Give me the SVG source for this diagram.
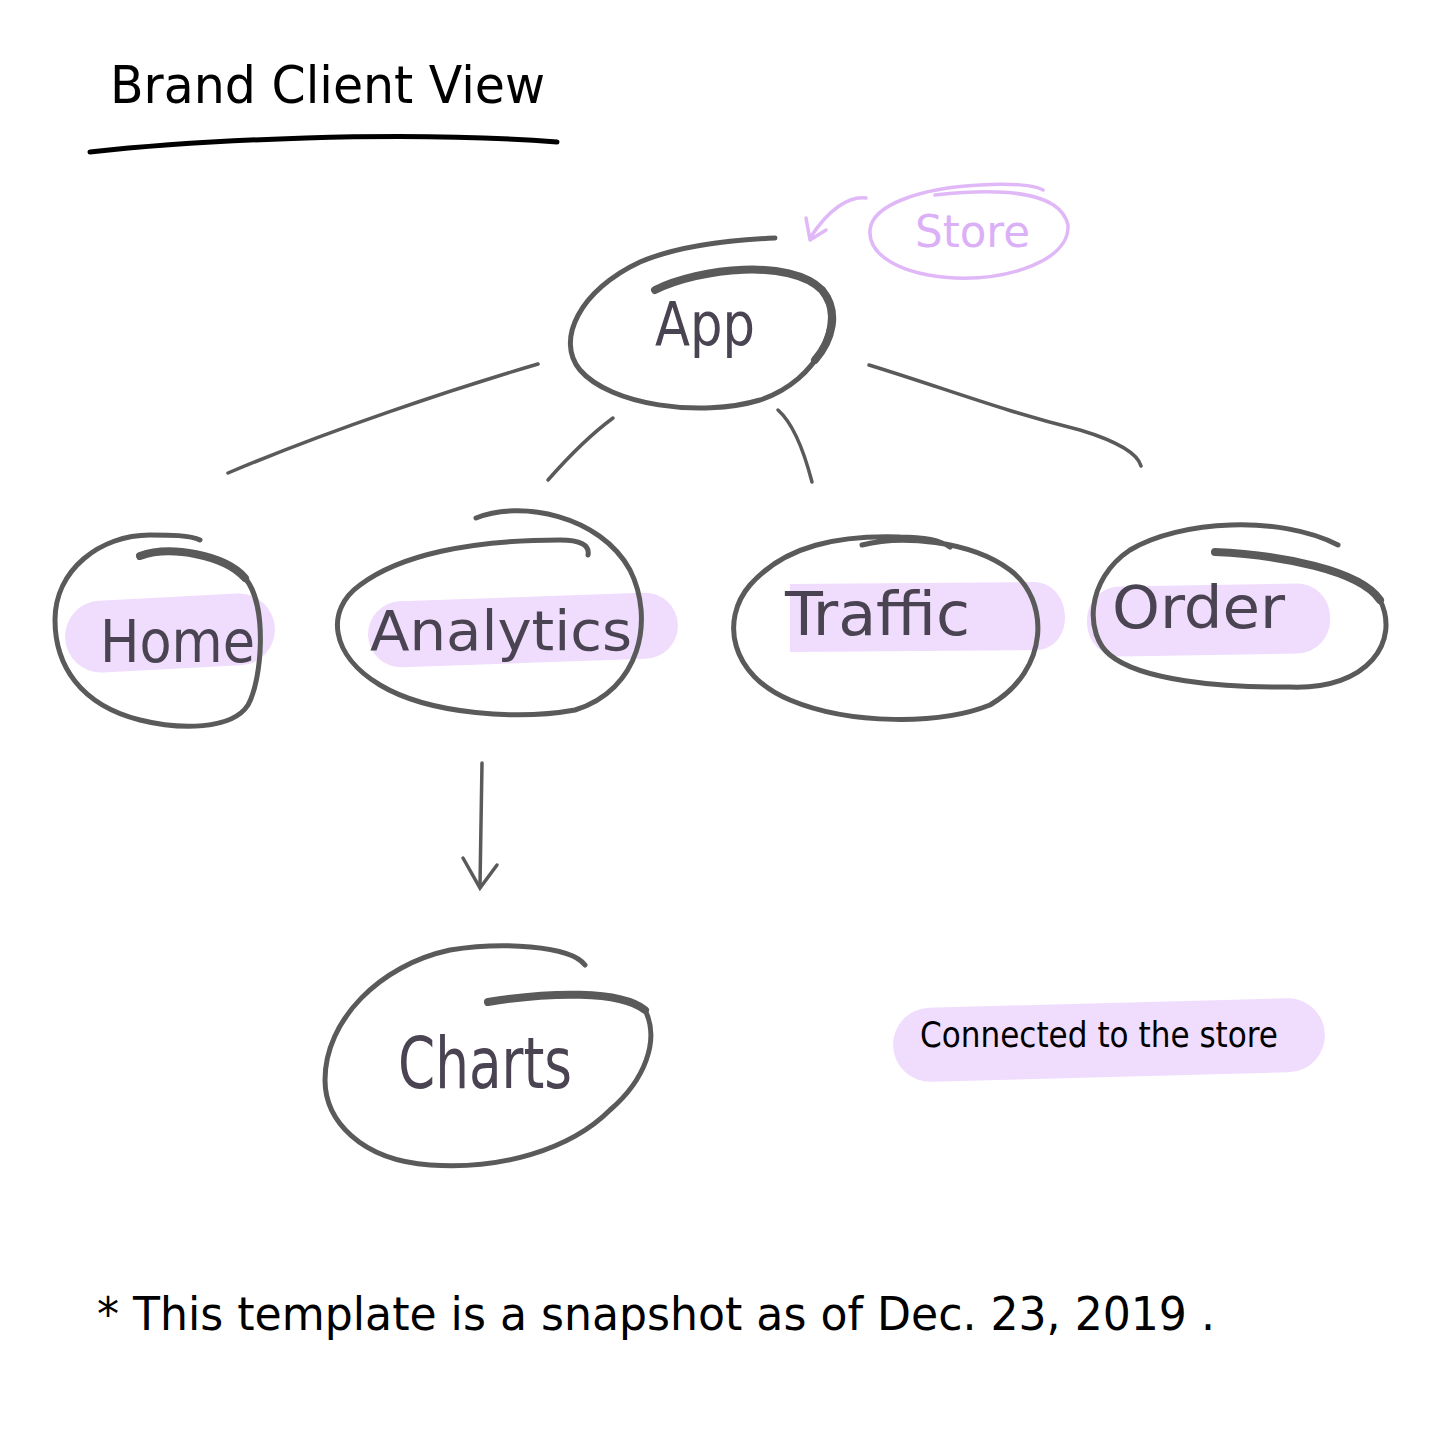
<svg xmlns="http://www.w3.org/2000/svg" width="1440" height="1440" viewBox="0 0 1440 1440">
<style>
.ring{fill:none;stroke:#5a5a5a;stroke-width:5;stroke-linecap:round;stroke-linejoin:round}
.thick{fill:none;stroke:#5a5a5a;stroke-width:8;stroke-linecap:round}
.conn{fill:none;stroke:#5a5a5a;stroke-width:3.5;stroke-linecap:round}
.hl{fill:#f0dcfd}
.lbl{font-family:"DejaVu Sans Condensed","Liberation Sans",sans-serif;fill:#4a4452}
.ink{font-family:"DejaVu Sans Condensed","Liberation Sans",sans-serif;fill:#000}
.pink{fill:none;stroke:#e0b8f8;stroke-width:3.5;stroke-linecap:round;stroke-linejoin:round}
</style>
<rect width="1440" height="1440" fill="#fff"/>
<g id="title">
<text class="ink" x="110" y="103" font-size="52" textLength="435" lengthAdjust="spacingAndGlyphs">Brand Client View</text>
<path d="M90,152 C200,140 400,130 557,142" fill="none" stroke="#000" stroke-width="5" stroke-linecap="round"/>
</g>
<g id="connectors">
<path class="conn" d="M228,473 C330,430 450,390 538,364"/>
<path class="conn" d="M548,480 C570,455 590,435 613,418"/>
<path class="conn" d="M778,410 C795,425 805,455 812,482"/>
<path class="conn" d="M869,365 C950,390 1000,410 1080,430 C1120,442 1138,455 1141,466"/>
<path class="conn" d="M482,763 L480,885"/>
<path class="conn" d="M463,858 L480,888 L497,865"/>
<path class="pink" d="M866,198 C848,196 828,210 810,238"/>
<path class="pink" d="M806,218 L810,240 L826,230"/>
</g>
<g id="store">
<path class="pink" d="M935,195 C1000,188 1060,190 1068,225 C1070,260 1010,280 955,278 C900,275 868,255 870,230 C872,205 920,188 980,185 C1010,183 1035,185 1043,190"/>
<text x="915" y="247" font-size="44" font-family="DejaVu Sans Condensed,Liberation Sans,sans-serif" fill="#dcb0f7" textLength="115" lengthAdjust="spacingAndGlyphs">Store</text>
</g>
<g id="app">
<path class="ring" d="M655,290 C700,268 790,258 822,290 C845,320 820,380 760,400 C700,418 610,405 580,370 C555,340 580,290 640,262 C680,245 730,240 775,238"/>
<path class="thick" d="M655,290 C700,268 790,258 822,290 C840,312 832,340 815,360"/>
<text class="lbl" x="655" y="345" font-size="60" textLength="100" lengthAdjust="spacingAndGlyphs">App</text>
</g>
<g id="home">
<rect class="hl" x="65" y="597" width="210" height="72" rx="36" transform="rotate(-3 170 633)"/>
<path class="ring" d="M140,556 C170,545 225,555 245,578 C268,605 262,680 248,705 C232,730 180,730 140,720 C80,705 55,665 55,620 C55,570 100,535 150,535 C170,535 190,535 200,540"/>
<path class="thick" d="M140,556 C170,545 225,555 245,578"/>
<text class="lbl" x="100" y="662" font-size="58" textLength="155" lengthAdjust="spacingAndGlyphs">Home</text>
</g>
<g id="analytics">
<rect class="hl" x="368" y="597" width="310" height="66" rx="33" transform="rotate(-2 523 630)"/>
<path class="ring" d="M476,518 C520,500 600,515 630,570 C655,620 640,690 575,710 C520,720 430,715 380,685 C330,655 325,610 360,585 C400,555 470,540 560,540 C580,540 590,545 588,555"/>
<text class="lbl" x="370" y="650" font-size="56" textLength="262" lengthAdjust="spacingAndGlyphs">Analytics</text>
</g>
<g id="traffic">
<path class="hl" d="M790,584 L1035,582 C1075,585 1075,650 1035,650 L790,652 Z"/>
<path class="ring" d="M862,545 C900,535 970,540 1010,570 C1050,600 1050,670 990,705 C940,725 850,725 790,700 C730,675 720,620 750,585 C785,545 840,535 900,537 C920,537 940,540 950,547"/>
<text class="lbl" x="785" y="635" font-size="60" textLength="185" lengthAdjust="spacingAndGlyphs">Traffic</text>
</g>
<g id="order">
<rect class="hl" x="1087" y="585" width="243" height="70" rx="33" transform="rotate(-1 1208 620)"/>
<path class="ring" d="M1215,552 C1280,555 1360,570 1380,600 C1400,640 1370,690 1290,687 C1220,688 1140,680 1110,655 C1085,635 1085,580 1130,550 C1180,520 1280,515 1338,545"/>
<path class="thick" d="M1215,552 C1280,555 1360,570 1380,600"/>
<text class="lbl" x="1112" y="628" font-size="58" textLength="173" lengthAdjust="spacingAndGlyphs">Order</text>
</g>
<g id="charts">
<path class="ring" d="M488,1002 C550,992 620,990 645,1010 C660,1040 645,1080 610,1110 C570,1150 500,1170 430,1165 C360,1160 325,1120 325,1080 C325,1020 380,965 450,950 C500,942 570,945 585,965"/>
<path class="thick" d="M488,1002 C550,992 620,990 645,1010"/>
<text class="lbl" x="398" y="1088" font-size="72" textLength="174" lengthAdjust="spacingAndGlyphs">Charts</text>
</g>
<g id="legend">
<rect class="hl" x="893" y="1003" width="432" height="74" rx="37" transform="rotate(-1.5 1109 1040)"/>
<text class="ink" x="920" y="1047" font-size="36" textLength="358" lengthAdjust="spacingAndGlyphs">Connected to the store</text>
</g>
<g id="footnote">
<text class="ink" x="97" y="1330" font-size="46" textLength="1118" lengthAdjust="spacingAndGlyphs">* This template is a snapshot as of Dec. 23, 2019 .</text>
</g>
</svg>
